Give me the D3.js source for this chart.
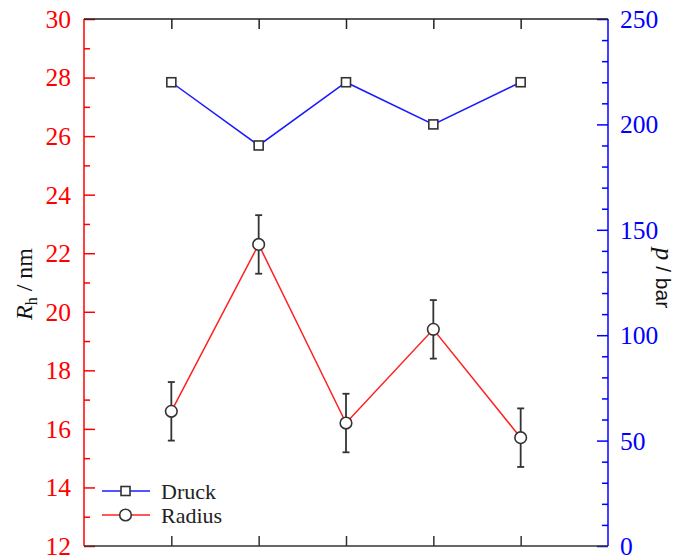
<!DOCTYPE html>
<html><head><meta charset="utf-8">
<script src="https://cdn.jsdelivr.net/npm/d3@7/dist/d3.min.js"></script>
<style>body{margin:0;background:#fff}svg{display:block}</style>
</head><body>
<script>
const categories = [1, 2, 3, 4, 5];
const druck = [220, 190, 220, 200, 220];
const radius = [16.6, 22.3, 16.2, 19.4, 15.7];
const radiusErr = [1.0, 1.0, 1.0, 1.0, 1.0];
const leftTicks = [12, 14, 16, 18, 20, 22, 24, 26, 28, 30];
const rightTicks = [0, 50, 100, 150, 200, 250];

const W = 681, H = 558;
const m = {l: 84, r: 608, t: 19, b: 546};
const svg = d3.select("body").append("svg").attr("width", W).attr("height", H);

const x = d3.scaleLinear().domain([0, 6]).range([m.l, m.r]);
const yL = d3.scaleLinear().domain([12, 30]).range([m.b, m.t]);
const yR = d3.scaleLinear().domain([0, 250]).range([m.b, m.t]);
const serif = "Liberation Serif";

// left axis
const gL = svg.append("g").attr("transform", `translate(${m.l},0)`);
gL.call(d3.axisRight(yL).tickValues(d3.range(12, 31, 1)).tickSize(6).tickFormat(""));
gL.call(g => g.selectAll(".tick").filter(d => d % 2 === 0).select("line").attr("x2", 11));
gL.selectAll("path,line").attr("stroke", "#ff0000").attr("stroke-width", 1.5);
gL.select(".domain").attr("d", `M0,${m.t}V${m.b}`);
svg.append("g").selectAll("text").data(leftTicks).join("text")
  .attr("x", m.l - 13).attr("y", d => yL(d)).attr("dy", "0.35em")
  .attr("text-anchor", "end").attr("fill", "#ff0000")
  .attr("font-family", serif).attr("font-size", 25.5).text(d => d);

// right axis
const gR = svg.append("g").attr("transform", `translate(${m.r},0)`);
gR.call(d3.axisLeft(yR).tickValues(d3.range(0, 251, 10)).tickSize(6).tickFormat(""));
gR.call(g => g.selectAll(".tick").filter(d => d % 50 === 0).select("line").attr("x2", -11));
gR.selectAll("path,line").attr("stroke", "#0000ff").attr("stroke-width", 1.5);
gR.select(".domain").attr("d", `M0,${m.t}V${m.b}`);
svg.append("g").selectAll("text").data(rightTicks).join("text")
  .attr("x", m.r + 12).attr("y", d => yR(d)).attr("dy", "0.35em")
  .attr("text-anchor", "start").attr("fill", "#0000ff")
  .attr("font-family", serif).attr("font-size", 25.5).text(d => d);

// top & bottom axes
const gB = svg.append("g").attr("transform", `translate(0,${m.b})`);
gB.call(d3.axisTop(x).tickValues(categories).tickSize(10).tickFormat(""));
gB.select(".domain").attr("d", `M${m.l},0H${m.r}`);
gB.selectAll("path,line").attr("stroke", "#333").attr("stroke-width", 1.5);
const gT = svg.append("g").attr("transform", `translate(0,${m.t})`);
gT.call(d3.axisBottom(x).tickValues(categories).tickSize(10).tickFormat(""));
gT.select(".domain").attr("d", `M${m.l},0H${m.r}`);
gT.selectAll("path,line").attr("stroke", "#222").attr("stroke-width", 1.5);

// Druck line
const druckPts = categories.map((c, i) => [x(c), yR(druck[i])]);
svg.append("path").attr("d", d3.line()(druckPts)).attr("fill", "none")
  .attr("stroke", "#1a1aff").attr("stroke-width", 1.5);
svg.append("g").selectAll("rect").data(druckPts).join("rect")
  .attr("x", d => d[0] - 4.5).attr("y", d => d[1] - 4.5).attr("width", 9).attr("height", 9)
  .attr("fill", "#fff").attr("stroke", "#333").attr("stroke-width", 1.6);

// Radius line
const radPts = categories.map((c, i) => [x(c), yL(radius[i])]);
svg.append("path").attr("d", d3.line()(radPts)).attr("fill", "none")
  .attr("stroke", "#ff2020").attr("stroke-width", 1.5);
const eb = svg.append("g").attr("stroke", "#333").attr("stroke-width", 1.8);
categories.forEach((c, i) => {
  const xc = x(c), y1 = yL(radius[i] + radiusErr[i]), y0 = yL(radius[i] - radiusErr[i]);
  eb.append("line").attr("x1", xc).attr("x2", xc).attr("y1", y1).attr("y2", y0);
  eb.append("line").attr("x1", xc - 3.5).attr("x2", xc + 3.5).attr("y1", y1).attr("y2", y1);
  eb.append("line").attr("x1", xc - 3.5).attr("x2", xc + 3.5).attr("y1", y0).attr("y2", y0);
});
svg.append("g").selectAll("circle").data(radPts).join("circle")
  .attr("cx", d => d[0]).attr("cy", d => d[1]).attr("r", 5.8)
  .attr("fill", "#fff").attr("stroke", "#333").attr("stroke-width", 1.6);

// legend
const leg = svg.append("g");
leg.append("line").attr("x1", 102).attr("x2", 150).attr("y1", 491).attr("y2", 491).attr("stroke", "#1a1aff").attr("stroke-width", 1.5);
leg.append("rect").attr("x", 121).attr("y", 486.5).attr("width", 9).attr("height", 9).attr("fill", "#fff").attr("stroke", "#333").attr("stroke-width", 1.6);
leg.append("text").attr("x", 161).attr("y", 491).attr("dy", "0.35em").attr("font-family", serif).attr("font-size", 22).attr("fill", "#222").text("Druck");
leg.append("line").attr("x1", 102).attr("x2", 150).attr("y1", 515).attr("y2", 515).attr("stroke", "#ff2020").attr("stroke-width", 1.5);
leg.append("circle").attr("cx", 125.5).attr("cy", 515).attr("r", 5.8).attr("fill", "#fff").attr("stroke", "#333").attr("stroke-width", 1.6);
leg.append("text").attr("x", 161).attr("y", 515).attr("dy", "0.35em").attr("font-family", serif).attr("font-size", 22).attr("fill", "#222").text("Radius");

// axis titles
const tl = svg.append("text").attr("transform", "translate(32,284) rotate(-90)")
  .attr("text-anchor", "middle").attr("font-family", serif).attr("font-size", 24).attr("fill", "#111");
tl.append("tspan").attr("font-style", "italic").text("R");
tl.append("tspan").attr("dy", 5).attr("font-size", 16).text("h");
tl.append("tspan").attr("dy", -5).text(" / nm");

const tr = svg.append("text").attr("transform", "translate(656,278) rotate(90)")
  .attr("text-anchor", "middle").attr("font-family", "Liberation Sans").attr("font-size", 21).attr("fill", "#111");
tr.append("tspan").attr("font-style", "italic").attr("font-family", serif).attr("font-size", 25).text("p");
tr.append("tspan").text(" / bar");
</script>
</body></html>
